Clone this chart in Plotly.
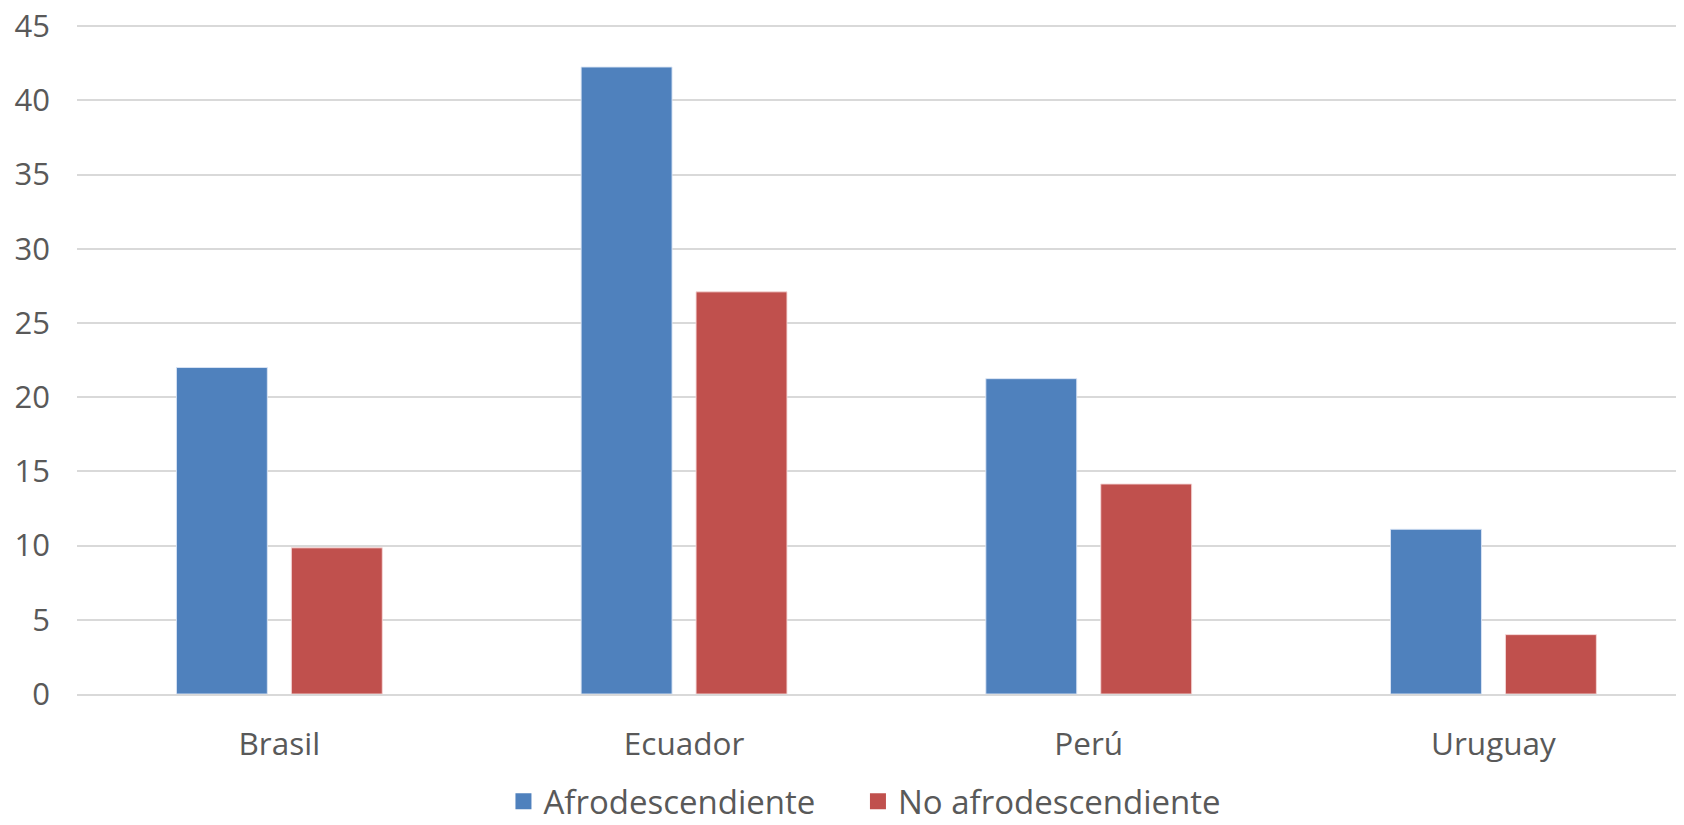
import plotly.graph_objects as go

categories = ["Brasil", "Ecuador", "Perú", "Uruguay"]
afro = [22.0, 42.25, 21.25, 11.1]
no_afro = [9.85, 27.1, 14.15, 4.0]
series_names = ["Afrodescendiente", "No afrodescendiente"]
series_colors = ["#4F81BD", "#C0504D"]
y_ticks = [0, 5, 10, 15, 20, 25, 30, 35, 40, 45]

# page body has an 8px margin, so the figure is sized to fit the window exactly
W, H = 1668, 809
y_top = 45.15
px_per_unit = 14.86
left = 69
bottom = 122.5
top = (H - bottom) - y_top * px_per_unit
plot_h = H - bottom - top
plot_w = W - left
cat_px = 404.7
x_hi = -0.5 + plot_w / cat_px
legend_center = 794
legend_y = -(legend_center - (H - bottom)) / plot_h
legend_ids = ["legend", "legend2"]

fig = go.Figure()
for vals, name, col, edge in [(afro, series_names[0], series_colors[0], "rgba(220,230,245,0.9)"),
                              (no_afro, series_names[1], series_colors[1], "rgba(245,215,215,0.9)")]:
    fig.add_trace(go.Bar(x=categories, y=vals, name=name, showlegend=False, legendgroup=name,
                         marker=dict(color=col, line=dict(color=edge, width=1))))
# legend entries with larger square swatches
for name, col, lg in zip(series_names, series_colors, legend_ids):
    fig.add_trace(go.Scatter(x=[None], y=[None], mode="markers", name=name, legendgroup=name,
                             legend=lg, marker=dict(symbol="square", size=16, color=col),
                             showlegend=True))

legend_common = dict(orientation="h", xanchor="left", yanchor="middle", y=legend_y,
                     font=dict(size=33, color="#595959"), bgcolor="rgba(0,0,0,0)")

fig.update_layout(
    width=W, height=H,
    margin=dict(l=left, r=0, t=top, b=bottom, pad=0, autoexpand=False),
    paper_bgcolor="white", plot_bgcolor="white",
    barmode="group", bargap=0.432, bargroupgap=0.209,
    font=dict(family="Open Sans", color="#595959"),
    showlegend=True,
    legend=dict(x=0.2667, **legend_common),
    legend2=dict(x=0.4884, **legend_common),
    xaxis=dict(range=[-0.5, x_hi], showgrid=False, showline=True, linecolor="#D9D9D9", linewidth=1.5,
               ticks="", tickfont=dict(size=31.5, color="#595959"), ticklabelstandoff=21,
               fixedrange=True, automargin=False),
    yaxis=dict(range=[0, y_top], tickvals=y_ticks, showgrid=True, gridcolor="#D9D9D9", gridwidth=1.5,
               zeroline=False, showline=False, ticks="", tickfont=dict(size=31, color="#595959"),
               ticklabelstandoff=26, ticklabeloverflow="allow", fixedrange=True, automargin=False),
)

fig.write_html("out.html")
